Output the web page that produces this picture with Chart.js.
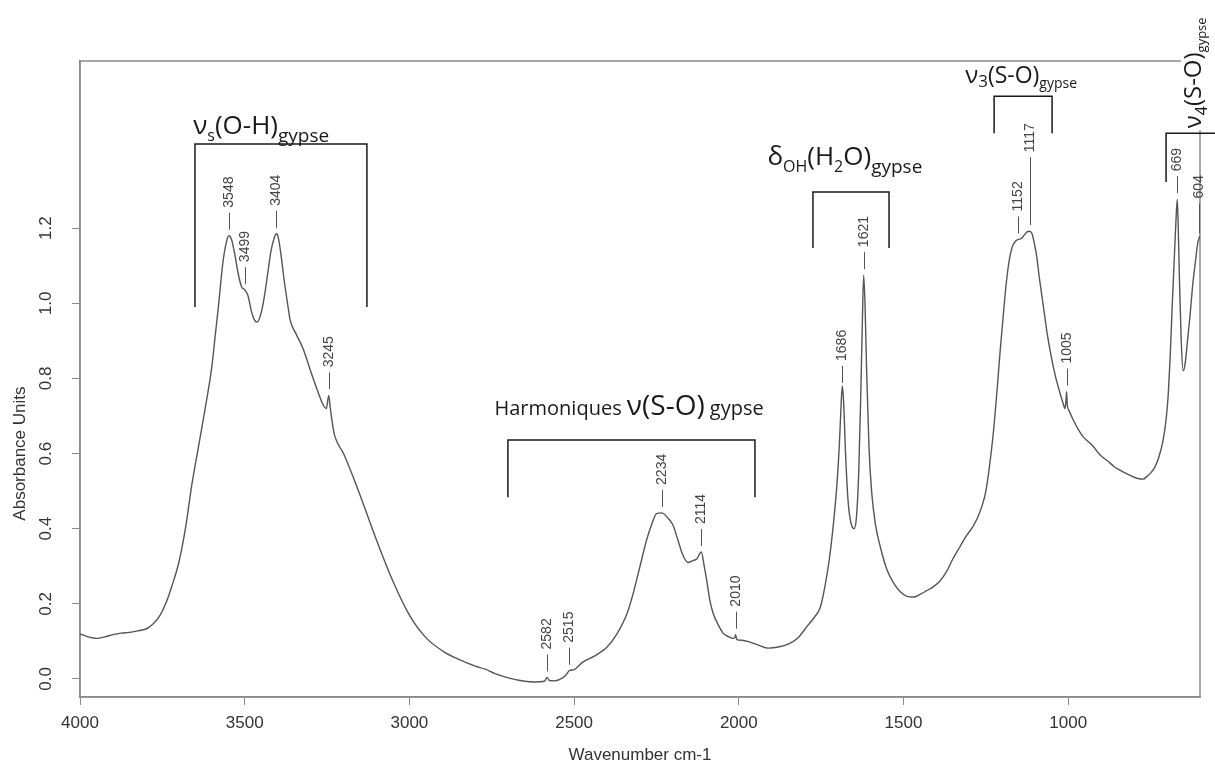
<!DOCTYPE html>
<html>
<head>
<meta charset="utf-8">
<script src="https://cdn.jsdelivr.net/npm/chart.js@4.4.1/dist/chart.umd.min.js"></script>
<style>
  html, body { margin: 0; padding: 0; background: #fff; }
  #wrap { width: 1215px; height: 772px; position: relative; }
</style>
</head>
<body>
<div id="wrap"><canvas id="irChart"></canvas></div>
<script>
// spectre IR du gypse
const wavenumbers = [
  4000, 3975, 3950, 3925, 3900, 3875, 3850, 3825, 3800, 3790, 3780, 3760, 3740, 3720, 3700, 3680,
  3660, 3640, 3620, 3600, 3590, 3580, 3566, 3555, 3548, 3540, 3530, 3520, 3510, 3499, 3490, 3480,
  3470, 3462, 3450, 3440, 3430, 3420, 3410, 3404, 3398, 3390, 3380, 3370, 3362, 3345, 3323, 3300,
  3280, 3262, 3252, 3245, 3240, 3232, 3226, 3200, 3150, 3100, 3050, 3000, 2950, 2900, 2850, 2800,
  2770, 2740, 2700, 2650, 2620, 2590, 2582, 2575, 2560, 2545, 2525, 2515, 2500, 2474, 2440, 2400,
  2370, 2339, 2320, 2300, 2280, 2263, 2250, 2234, 2217, 2200, 2185, 2170, 2154, 2140, 2127, 2114,
  2105, 2097, 2088, 2078, 2060, 2048, 2030, 2018, 2012, 2010, 2006, 1990, 1966, 1940, 1911, 1880,
  1845, 1820, 1793, 1770, 1753, 1740, 1725, 1712, 1702, 1695, 1690, 1686, 1682, 1676, 1668, 1658,
  1650, 1643, 1636, 1630, 1625, 1621, 1617, 1612, 1605, 1597, 1585, 1570, 1550, 1530, 1510, 1490,
  1470, 1450, 1430, 1410, 1390, 1370, 1350, 1330, 1310, 1290, 1275, 1262, 1250, 1240, 1228, 1215,
  1207, 1200, 1193, 1186, 1178, 1170, 1160, 1152, 1143, 1135, 1125, 1117, 1110, 1103, 1095, 1088,
  1080, 1072, 1064, 1052, 1040, 1028, 1016, 1010, 1007, 1005, 1003, 998, 985, 970, 955, 943,
  925, 903, 880, 860, 843, 820, 800, 785, 773, 760, 748, 737, 725, 712, 703, 697,
  690, 684, 678, 673, 669, 666, 662, 657, 651, 645, 638, 630, 622, 614, 606, 604, 600
];
const absorbance = [
  0.120, 0.112, 0.108, 0.112, 0.118, 0.122, 0.124, 0.128, 0.133, 0.138, 0.145, 0.165, 0.200, 0.250, 0.310, 0.400,
  0.520, 0.620, 0.720, 0.830, 0.910, 0.990, 1.110, 1.165, 1.180, 1.170, 1.130, 1.080, 1.045, 1.035, 1.020, 0.980,
  0.955, 0.950, 0.975, 1.020, 1.080, 1.140, 1.175, 1.185, 1.175, 1.130, 1.060, 1.000, 0.955, 0.920, 0.880, 0.820,
  0.770, 0.730, 0.720, 0.755, 0.720, 0.670, 0.645, 0.600, 0.490, 0.370, 0.260, 0.170, 0.110, 0.075, 0.052, 0.034,
  0.026, 0.014, 0.003, -0.006, -0.008, -0.006, 0.004, -0.004, -0.005, -0.002, 0.010, 0.022, 0.025, 0.045, 0.060, 0.085,
  0.120, 0.175, 0.230, 0.300, 0.370, 0.415, 0.440, 0.442, 0.430, 0.410, 0.370, 0.330, 0.310, 0.315, 0.320, 0.338,
  0.300, 0.260, 0.210, 0.175, 0.140, 0.122, 0.112, 0.108, 0.110, 0.118, 0.105, 0.103, 0.098, 0.090, 0.082, 0.085,
  0.095, 0.110, 0.140, 0.165, 0.190, 0.240, 0.320, 0.420, 0.520, 0.620, 0.720, 0.780, 0.740, 0.600, 0.470, 0.410,
  0.400, 0.430, 0.550, 0.750, 0.950, 1.075, 1.000, 0.820, 0.620, 0.500, 0.410, 0.350, 0.290, 0.255, 0.232, 0.220,
  0.218, 0.225, 0.235, 0.245, 0.260, 0.285, 0.320, 0.350, 0.380, 0.405, 0.430, 0.460, 0.500, 0.560, 0.650, 0.780,
  0.870, 0.940, 1.010, 1.070, 1.120, 1.150, 1.165, 1.170, 1.172, 1.180, 1.190, 1.192, 1.185, 1.160, 1.120, 1.070,
  1.020, 0.970, 0.920, 0.860, 0.810, 0.770, 0.735, 0.720, 0.740, 0.765, 0.730, 0.715, 0.690, 0.665, 0.645, 0.635,
  0.620, 0.596, 0.580, 0.565, 0.556, 0.545, 0.537, 0.533, 0.532, 0.540, 0.550, 0.564, 0.590, 0.636, 0.690, 0.750,
  0.870, 1.000, 1.120, 1.220, 1.277, 1.200, 1.050, 0.900, 0.820, 0.840, 0.900, 0.970, 1.050, 1.110, 1.165, 1.170, 1.180
];
const xTicks = [4000, 3500, 3000, 2500, 2000, 1500, 1000];
const yTicks = [0, 0.2, 0.4, 0.6, 0.8, 1.0, 1.2];
const peakLabels = [3548, 3499, 3404, 3245, 2582, 2515, 2234, 2114, 2010, 1686, 1621, 1152, 1117, 1005, 669, 604];

const axisFont = '"Liberation Sans", Arial, sans-serif';
const noteFont = '"Open Sans", "Noto Sans", sans-serif';

// groupes de bandes : texte (wn, A) + crochet [wn gauche, wn droite, A haut, A bas]
const bandGroups = [
  { parts: [['ν', 26, 0], ['s', 16, 7], ['(O-H)', 26, 0], ['gypse', 19, 8]],
    at: [3450, 1.450], bracket: [3651, 3129, 1.424, 0.990] },
  { parts: [['Harmoniques ', 20, 0], ['ν(S-O)', 28, 0], [' gypse', 20, 0]],
    at: [2333, 0.702], bracket: [2701, 1951, 0.636, 0.484] },
  { parts: [['δ', 26, 0], ['OH', 16, 7], ['(H', 26, 0], ['2', 16, 7], ['O)', 26, 0], ['gypse', 19, 8]],
    at: [1678, 1.368], bracket: [1775, 1544, 1.296, 1.147] },
  { parts: [['ν', 24, 0], ['3', 17, 4], ['(S-O)', 23, 0], ['gypse', 14, 5]],
    at: [1143, 1.586], bracket: [1225, 1049, 1.551, 1.453] },
  { parts: [['ν', 24, 0], ['4', 16, 6], ['(S-O)', 24, 0], ['gypse', 13, 5]],
    at: [597, 1.466], bracket: [703, 550, 1.453, 1.323], vertical: true }
];
const tickOverrides = { 1117: { len: 68 }, 604: { len: 30 }, 1686: { gap: 3 } };

function valueAt(wn) {
  for (let i = 0; i < wavenumbers.length - 1; i++) {
    const a = wavenumbers[i], b = wavenumbers[i + 1];
    if (wn <= a && wn >= b) {
      const t = (a - wn) / (a - b);
      return absorbance[i] + t * (absorbance[i + 1] - absorbance[i]);
    }
  }
  return absorbance[absorbance.length - 1];
}

function richWidth(ctx, parts) {
  let w = 0;
  parts.forEach(([t, s]) => { ctx.font = s + 'px ' + noteFont; w += ctx.measureText(t).width; });
  return w;
}

function drawRich(ctx, parts, x0, y0) {
  let cx = x0;
  parts.forEach(([t, s, dy]) => {
    ctx.font = s + 'px ' + noteFont;
    ctx.fillText(t, cx, y0 + dy);
    cx += ctx.measureText(t).width;
  });
}

const irAnnotations = {
  id: 'irAnnotations',
  beforeDatasetsDraw(chart) {
    const { ctx, chartArea: a } = chart;
    ctx.save();
    ctx.strokeStyle = '#8a8a8a';
    ctx.lineWidth = 1.5;
    ctx.strokeRect(a.left, a.top, a.right - a.left, a.bottom - a.top);
    ctx.restore();
  },
  afterDraw(chart) {
    const { ctx, scales: { x, y } } = chart;
    ctx.save();

    // titre axe Y, centré sur la plage graduée
    ctx.fillStyle = '#333';
    ctx.font = '17px ' + axisFont;
    ctx.textAlign = 'center';
    ctx.textBaseline = 'middle';
    ctx.translate(20, (y.getPixelForValue(0) + y.getPixelForValue(1.2)) / 2);
    ctx.rotate(-Math.PI / 2);
    ctx.fillText('Absorbance Units', 0, 0);
    ctx.setTransform(1, 0, 0, 1, 0, 0);

    // étiquettes des pics
    ctx.font = '14px ' + axisFont;
    ctx.textAlign = 'left';
    ctx.textBaseline = 'middle';
    peakLabels.forEach(wn => {
      const o = tickOverrides[wn] || {};
      const px = Math.round(x.getPixelForValue(wn)) + 0.5;
      const base = y.getPixelForValue(valueAt(wn)) - (o.gap || 6);
      const top = base - (o.len || 17);
      ctx.strokeStyle = '#555';
      ctx.lineWidth = 1;
      ctx.beginPath();
      ctx.moveTo(px, base);
      ctx.lineTo(px, top);
      ctx.stroke();
      ctx.save();
      ctx.translate(px, top - 5);
      ctx.rotate(-Math.PI / 2);
      ctx.fillStyle = '#444';
      ctx.fillText(String(wn), 0, 0);
      ctx.restore();
    });

    // crochets et libellés des bandes
    ctx.textAlign = 'left';
    ctx.textBaseline = 'alphabetic';
    bandGroups.forEach(g => {
      const [wl, wr, yt, yb] = g.bracket;
      const xl = x.getPixelForValue(wl), xr = x.getPixelForValue(wr);
      const pt = y.getPixelForValue(yt), pb = y.getPixelForValue(yb);
      const tx = x.getPixelForValue(g.at[0]), ty = y.getPixelForValue(g.at[1]);
      ctx.fillStyle = '#1a1a1a';
      if (g.vertical) {
        const w = richWidth(ctx, g.parts);
        ctx.fillStyle = '#fff';
        ctx.fillRect(tx - 20, ty - w - 2, 30, w + 4);
        ctx.save();
        ctx.translate(tx, ty);
        ctx.rotate(-Math.PI / 2);
        ctx.fillStyle = '#1a1a1a';
        drawRich(ctx, g.parts, 0, 0);
        ctx.restore();
      } else {
        drawRich(ctx, g.parts, tx - richWidth(ctx, g.parts) / 2, ty);
      }
      ctx.strokeStyle = '#1a1a1a';
      ctx.lineWidth = 1.5;
      ctx.beginPath();
      ctx.moveTo(xl, pb);
      ctx.lineTo(xl, pt);
      ctx.lineTo(xr, pt);
      if (!g.vertical) ctx.lineTo(xr, pb);
      ctx.stroke();
    });
    ctx.restore();
  }
};

new Chart(document.getElementById('irChart'), {
  type: 'line',
  data: {
    datasets: [{
      label: 'Gypse',
      data: wavenumbers.map((wn, i) => ({ x: wn, y: absorbance[i] })),
      borderColor: '#555',
      borderWidth: 1.4,
      pointRadius: 0,
      cubicInterpolationMode: 'monotone',
      fill: false
    }]
  },
  options: {
    responsive: true,
    maintainAspectRatio: false,
    animation: false,
    layout: { padding: { top: 61, right: 15, left: 0, bottom: 0 } },
    plugins: { legend: { display: false }, tooltip: { enabled: false } },
    scales: {
      x: {
        type: 'linear',
        reverse: true,
        min: 600,
        max: 4000,
        afterBuildTicks: s => { s.ticks = xTicks.map(v => ({ value: v })); },
        afterFit: s => { s.height = 75; },
        border: { color: '#8a8a8a', width: 1.5 },
        grid: { drawOnChartArea: false, drawTicks: true, tickLength: 8, color: '#8a8a8a' },
        ticks: { color: '#333', font: { family: axisFont, size: 17 }, padding: 8, maxRotation: 0,
                 callback: v => String(v) },
        title: { display: true, text: 'Wavenumber cm-1', color: '#333',
                 font: { family: axisFont, size: 17 }, padding: { top: 0, bottom: 6 } }
      },
      y: {
        min: -0.048,
        max: 1.645,
        afterBuildTicks: s => { s.ticks = yTicks.map(v => ({ value: v })); },
        afterFit: s => { s.width = 80; },
        border: { color: '#8a8a8a', width: 1.5 },
        grid: { drawOnChartArea: false, drawTicks: true, tickLength: 8, color: '#8a8a8a' },
        ticks: { color: '#333', font: { family: axisFont, size: 17 }, padding: 14,
                 minRotation: 90, maxRotation: 90, crossAlign: 'center',
                 callback: v => v.toFixed(1) }
      }
    }
  },
  plugins: [irAnnotations]
});
</script>
</body>
</html>
